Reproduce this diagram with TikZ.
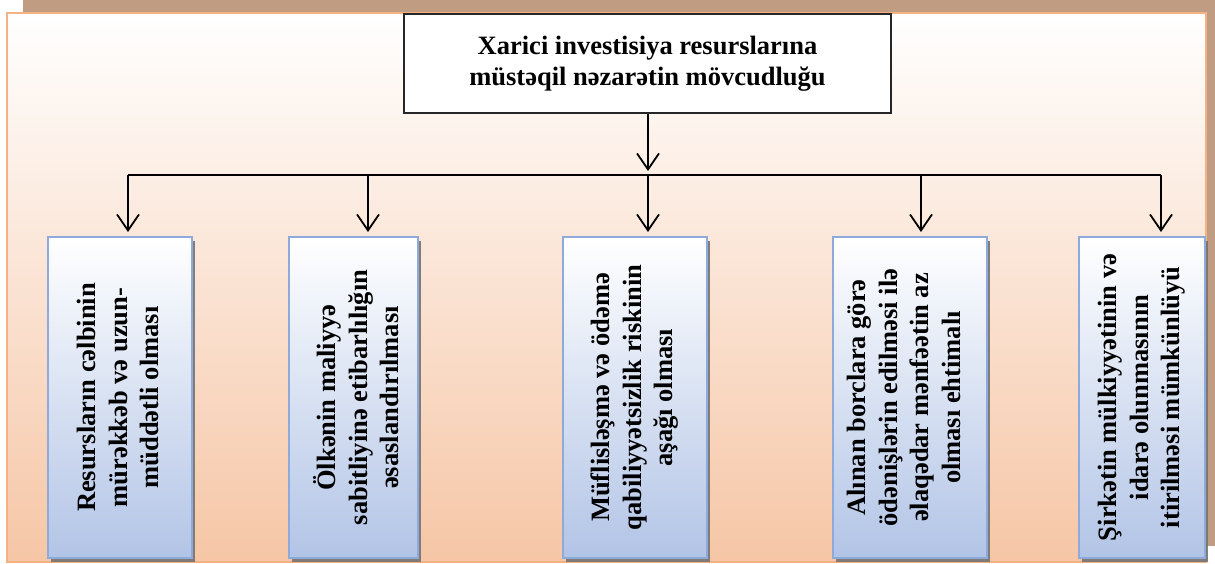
\documentclass[tikz,border=0pt]{standalone}
\usepackage{fontspec}
\setmainfont{Liberation Serif}
\usetikzlibrary{arrows.meta,shadows}
\definecolor{shadowtan}{HTML}{C09C82}
\definecolor{panelborder}{HTML}{F4B183}
\definecolor{peach}{HTML}{F6C6A6}
\definecolor{blueborder}{HTML}{8EAADB}
\definecolor{bluebot}{HTML}{B2C4E6}
\begin{document}
\begin{tikzpicture}[x=1pt,y=-1pt,
  panel/.style={draw=panelborder, line width=2pt, top color=white, bottom color=peach},
  topbox/.style={draw=black!85, line width=1.4pt, fill=white, align=center, inner sep=0pt,
     minimum width=487pt, minimum height=99pt, font=\fontsize{26.5}{30.5}\selectfont\bfseries},
  bluebox/.style={draw=blueborder, line width=2pt, top color=white, bottom color=bluebot,
     minimum width=#1, minimum height=321pt, inner sep=0pt,
     drop shadow={shadow xshift=3pt, shadow yshift=-4pt, fill=black!55, opacity=0.9}},
  lbl/.style={rotate=90, align=center, inner sep=0pt, font=\fontsize{26.5}{31.5}\selectfont\bfseries},
  conn/.style={line width=1.8pt, black},
  arr/.style={conn, -{Straight Barb[length=16pt,width=22pt,line width=1.8pt]}, shorten >=4pt}
]
\useasboundingbox (0,0) rectangle (1215,564);
% background
\fill[shadowtan] (23,0) rectangle (1215,546);
\path[panel] (7,13) rectangle (1206,562);
% top box
\node[topbox] (top) at (647.5,63.5) {Xarici investisiya resurslarına\\müstəqil nəzarətin mövcudluğu};
% lower boxes
\node[bluebox=144pt] (b1) at (120,397.5) {};
\node[bluebox=129pt] (b2) at (353.5,397.5) {};
\node[bluebox=144pt] (b3) at (635,397.5) {};
\node[bluebox=154pt] (b4) at (910,397.5) {};
\node[bluebox=126pt] (b5) at (1142,397.5) {};
\node[lbl] (t1) at ([xshift=-2pt]b1.center) {Resursların cəlbinin\\mürəkkəb və uzun-\\müddətli olması};
\node[lbl] (t2) at ([xshift=3pt]b2.center) {Ölkənin maliyyə\\sabitliyinə etibarlılığın\\əsaslandırılması};
\node[lbl] (t3) at (b3.center) {Müflisləşmə və ödəmə\\qabiliyyətsizlik riskinin\\aşağı olması};
\node[lbl] (t4) at ([xshift=-6pt]b4.center) {Alınan borclara görə\\ödənişlərin edilməsi ilə\\əlaqədar mənfəətin az\\olması ehtimalı};
\node[lbl] (t5) at (b5.center) {Şirkətin mülkiyyətinin və\\idarə olunmasının\\itirilməsi mümkünlüyü};
% connectors
\coordinate (hm) at (648,175);
\coordinate (d1) at (128,175);
\coordinate (d2) at (368,175);
\coordinate (d3) at (648,175);
\coordinate (d4) at (921,175);
\coordinate (d5) at (1161,175);
\draw[arr] (top.south -| hm) -- (hm);
\draw[conn] (d1) -- (d5);
\draw[arr] (d1) -- (d1 |- b1.north);
\draw[arr] (d2) -- (d2 |- b2.north);
\draw[arr] (d3) -- (d3 |- b3.north);
\draw[arr] (d4) -- (d4 |- b4.north);
\draw[arr] (d5) -- (d5 |- b5.north);
\end{tikzpicture}
\end{document}
